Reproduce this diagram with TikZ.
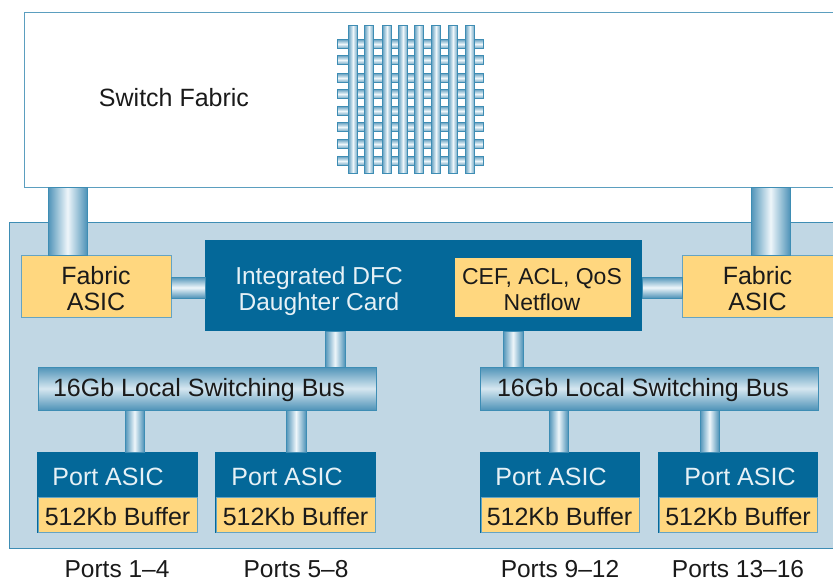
\documentclass[tikz,border=0pt]{standalone}
\usepackage{fontspec}
\setmainfont{Liberation Sans}
\usetikzlibrary{calc}
\definecolor{dblue}{HTML}{046899}
\definecolor{gold}{HTML}{FFD77F}
\definecolor{board}{HTML}{C1D7E4}
\definecolor{edge}{HTML}{3E8DB4}
\definecolor{pipedark}{HTML}{4F93B8}
\definecolor{pipelight}{HTML}{EEF6FA}
\definecolor{ink}{HTML}{1A1A1A}
\definecolor{pale}{HTML}{E6F1F6}
\tikzset{
  x=1pt,y=-1pt,
  block/.style={anchor=north west,inner sep=0pt,outer sep=0pt,align=center,line width=1pt,font=\fontsize{25}{26}\selectfont},
  whitebox/.style={block,fill=white,draw=edge!85,text=ink},
  boardbox/.style={block,fill=board,draw=edge},
  darkbox/.style={block,fill=dblue,text=pale},
  goldbox/.style={block,fill=gold,draw=edge!80,text=ink},
  busbox/.style={block,draw=edge,text=ink,top color=pipedark,bottom color=pipedark,middle color=pipelight!85!pipedark},
  vpipe/.style={draw=edge,line width=0.8pt,left color=pipedark,right color=pipedark,middle color=pipelight},
  hpipe/.style={draw=edge,line width=0.8pt,top color=pipedark,bottom color=pipedark,middle color=pipelight},
  gridv/.style={draw=edge,line width=1pt,left color=pipedark!85,right color=pipedark!85,middle color=pipelight},
  gridh/.style={draw=edge,line width=1pt,top color=pipedark!85,bottom color=pipedark!85,middle color=pipelight},
  lab/.style={inner sep=0pt,outer sep=0pt,align=center,font=\fontsize{25}{26}\selectfont},
  labdark/.style={lab,text=ink},
  lablight/.style={lab,text=pale},
}
\begin{document}
\begin{tikzpicture}
\useasboundingbox (0,0) rectangle (833,581);
\fill[white] (0,0) rectangle (833,581);
% boards
\node[whitebox,minimum width=815pt,minimum height=175pt] (fabric) at (24,12) {};
\node[boardbox,minimum width=830pt,minimum height=326pt] (board) at (9.5,222) {};
\node[labdark] (sftext) at (174,98) {Switch Fabric};
% crossbar grid
\foreach \y in {44,60,78,94,111,127,144,161}
  \path[gridh] (337,\y-4.5) rectangle (483,\y+4.5);
\foreach \x in {353,369,387,403,419,436,453,470}
  \path[gridv] (\x-4.5,25) rectangle (\x+4.5,173);
% blocks
\node[goldbox,minimum width=150pt,minimum height=62pt] (asicL) at (21,255) {};
\node[goldbox,minimum width=151pt,minimum height=62pt] (asicR) at (682,255) {};
\node[darkbox,minimum width=437pt,minimum height=91pt] (dfc) at (205,240) {};
\node[goldbox,minimum width=176pt,minimum height=59pt,draw=none] (cef) at (455,258) {};
\node[labdark] (asicLt) at (96,292) {\strut Fabric\\\strut ASIC};
\node[labdark] (asicRt) at (757.5,292) {\strut Fabric\\\strut ASIC};
\node[labdark,font=\fontsize{23}{26}\selectfont] (ceft) at (542,292) {\strut CEF, ACL, QoS\\\strut Netflow};
\node[lablight,font=\fontsize{24.5}{26}\selectfont] (dfctext) at (319,292) {\strut Integrated DFC\\\strut Daughter Card};
\node[busbox,minimum width=338pt,minimum height=43pt] (busL) at (38,367) {};
\node[busbox,minimum width=338pt,minimum height=43pt] (busR) at (480,367) {};
\node[labdark] (busLt) at (199,390) {16Gb Local Switching Bus};
\node[labdark] (busRt) at (643,390) {16Gb Local Switching Bus};
% port blocks
\foreach \n/\x/\w/\tx/\bx in {a/37/161/108/117.5, b/215/161/287/295.5, c/480/160/551/559.5, d/658/160/740/738}{
  \node[darkbox,minimum width=\w pt,minimum height=81pt] (port\n) at (\x,452) {};
  \node[goldbox,minimum width=\w pt-2pt,minimum height=35pt] (buf\n) at (\x+1,497.5) {};
  \node[lablight] (port\n t) at (\tx,477) {Port ASIC};
  \node[labdark] (buf\n t) at (\bx,516.5) {512Kb Buffer};
}
% pipes between named blocks
\path[vpipe] (48,0 |- fabric.south) rectangle (87,0 |- asicL.north);
\path[vpipe] (751,0 |- fabric.south) rectangle (790,0 |- asicR.north);
\path[hpipe] (asicL.east |- 0,277) rectangle (dfc.west |- 0,298);
\path[hpipe] (dfc.east |- 0,277) rectangle (asicR.west |- 0,298);
\path[vpipe] (325,0 |- dfc.south) rectangle (345,0 |- busL.north);
\path[vpipe] (503,0 |- dfc.south) rectangle (523,0 |- busR.north);
\path[vpipe] (125,0 |- busL.south) rectangle (144,0 |- porta.north);
\path[vpipe] (286,0 |- busL.south) rectangle (306,0 |- portb.north);
\path[vpipe] (549,0 |- busR.south) rectangle (568,0 |- portc.north);
\path[vpipe] (700,0 |- busR.south) rectangle (719,0 |- portd.north);
% port labels
\node[labdark,font=\fontsize{24.5}{26}\selectfont] (p1) at (117,569.5) {Ports\ 1–4};
\node[labdark,font=\fontsize{24.5}{26}\selectfont] (p2) at (296,569.5) {Ports 5–8};
\node[labdark,font=\fontsize{24.5}{26}\selectfont] (p3) at (560,569.5) {Ports 9–12};
\node[labdark,font=\fontsize{24.5}{26}\selectfont] (p4) at (738,569.5) {Ports 13–16};
\end{tikzpicture}
\end{document}
